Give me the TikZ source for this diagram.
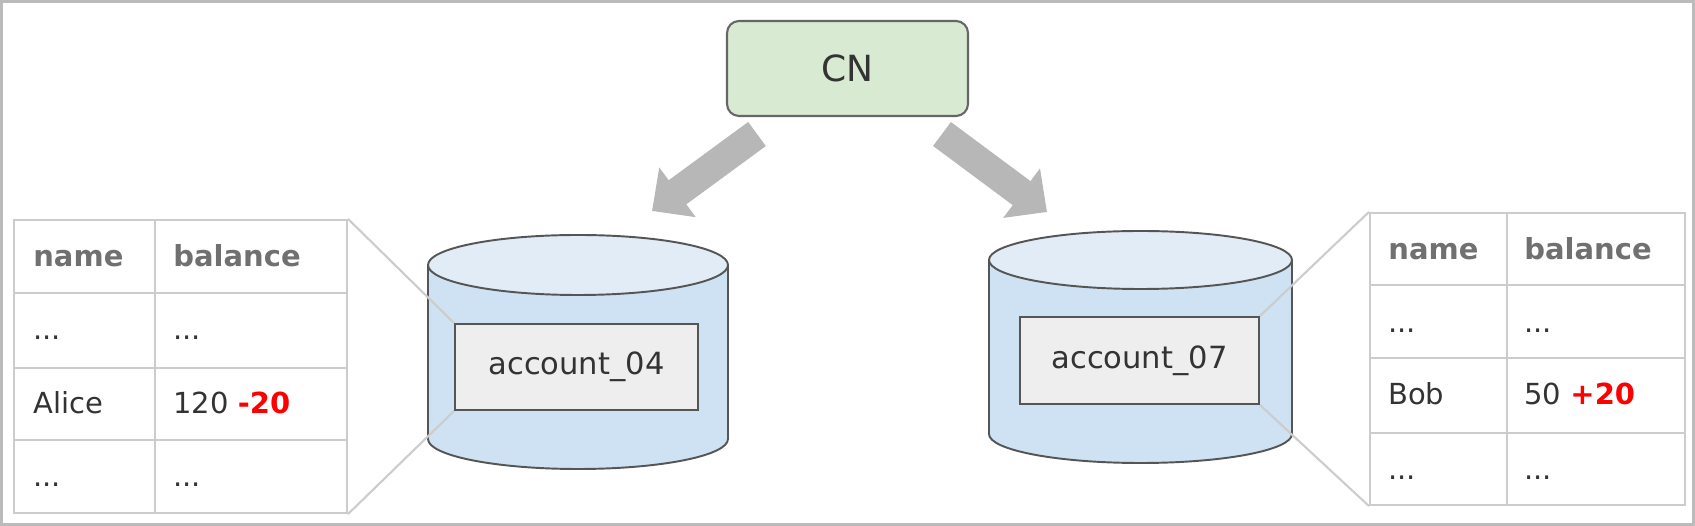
\documentclass[tikz,border=0pt]{standalone}
\usepackage{fontspec}
\setmainfont{DejaVu Sans}
\usetikzlibrary{arrows.meta,fit}
\definecolor{cnfill}{HTML}{D9EAD3}
\definecolor{cnline}{HTML}{666666}
\definecolor{cylbody}{HTML}{CFE2F3}
\definecolor{cyltop}{HTML}{E2ECF7}
\definecolor{cylline}{HTML}{555555}
\definecolor{boxfill}{HTML}{EEEEEE}
\definecolor{gridline}{HTML}{CCCCCC}
\definecolor{framegray}{HTML}{BBBBBB}
\definecolor{arrowgray}{HTML}{B7B7B7}
\definecolor{headtext}{HTML}{707070}
\definecolor{bodytext}{HTML}{333333}
\definecolor{deltared}{HTML}{FF0000}
\begin{document}
\begin{tikzpicture}[x=0.02cm,y=-0.02cm,
  cnbox/.style={draw=cnline,fill=cnfill,line width=1.2pt,rounded corners=0.24cm,
    minimum width=4.82cm,minimum height=1.9cm,inner sep=0pt,
    font=\fontsize{20.5}{24}\selectfont,text=bodytext},
  accbox/.style={draw=cylline,fill=boxfill,line width=1.1pt,inner sep=0pt,
    font=\fontsize{17.4}{21}\selectfont,text=bodytext},
  cylstroke/.style={draw=cylline,line width=1.1pt},
  tabframe/.style={draw=gridline,line width=1.2pt,inner sep=0pt},
  gridl/.style={draw=gridline,line width=1.2pt},
  zoomline/.style={draw=gridline,line width=1.2pt},
  hd/.style={anchor=base west,inner sep=0pt,text=headtext,font=\fontsize{16.5}{20}\selectfont\bfseries},
  cell/.style={anchor=base west,inner sep=0pt,text=bodytext,font=\fontsize{16.5}{20}\selectfont},
  bigarrow/.style={draw=arrowgray,line width=17pt,-{Triangle[width=34pt,length=18pt]}}
]
\useasboundingbox (0,0) rectangle (1695,526);
\draw[framegray,line width=1.2pt] (1.5,1.5) rectangle (1693.5,524.5);

% CN node
\node[cnbox] (cn) at (847.5,68.5) {CN};

% arrows
\coordinate (aLs) at (757,134);
\coordinate (aLe) at (652,211);
\coordinate (aRs) at (942,134);
\coordinate (aRe) at (1047,212);
\draw[bigarrow] (aLs) -- (aLe);
\draw[bigarrow] (aRs) -- (aRe);

% left cylinder
\fill[cylbody,cylstroke] (578,439) ellipse [x radius=150,y radius=30];
\fill[cylbody] (428,265) rectangle (728,439);
\draw[cylstroke] (428,265) -- (428,439);
\draw[cylstroke] (728,265) -- (728,439);
\filldraw[fill=cyltop,cylstroke] (578,265) ellipse [x radius=150,y radius=30];

% right cylinder
\fill[cylbody,cylstroke] (1140.5,434) ellipse [x radius=151.5,y radius=29];
\fill[cylbody] (989,260) rectangle (1292,434);
\draw[cylstroke] (989,260) -- (989,434);
\draw[cylstroke] (1292,260) -- (1292,434);
\filldraw[fill=cyltop,cylstroke] (1140.5,260) ellipse [x radius=151.5,y radius=29];

% left table
\coordinate (tL1) at (14,220);
\coordinate (tL2) at (347,513);
\node[tabframe,fit=(tL1)(tL2)] (tabL) {};
\draw[gridl] (155,220) -- (155,513);
\draw[gridl] (14,293) -- (347,293);
\draw[gridl] (14,368) -- (347,368);
\draw[gridl] (14,440) -- (347,440);
\node[hd] (l11) at (33,267) {name};
\node[hd] (l12) at (173,267) {balance};
\node[cell] (l21) at (33,340) {...};
\node[cell] (l22) at (173,340) {...};
\node[cell] (l31) at (33,414) {Alice};
\node[cell] (l32) at (173,414) {120 {\bfseries\color{deltared}-20}};
\node[cell] (l41) at (33,487) {...};
\node[cell] (l42) at (173,487) {...};

% right table
\coordinate (tR1) at (1370,213);
\coordinate (tR2) at (1685,505);
\node[tabframe,fit=(tR1)(tR2)] (tabR) {};
\draw[gridl] (1507,213) -- (1507,505);
\draw[gridl] (1370,285) -- (1685,285);
\draw[gridl] (1370,358) -- (1685,358);
\draw[gridl] (1370,433) -- (1685,433);
\node[hd] (r11) at (1388,260) {name};
\node[hd] (r12) at (1524,260) {balance};
\node[cell] (r21) at (1388,333) {...};
\node[cell] (r22) at (1524,333) {...};
\node[cell] (r31) at (1388,405) {Bob};
\node[cell] (r32) at (1524,405) {50 {\bfseries\color{deltared}+20}};
\node[cell] (r41) at (1388,480) {...};
\node[cell] (r42) at (1524,480) {...};

% boxes
\node[accbox,minimum width=4.86cm,minimum height=1.72cm] (acc4) at (576.5,367) {account\_04};
\node[accbox,minimum width=4.78cm,minimum height=1.74cm] (acc7) at (1139.5,360.5) {account\_07};

% zoom lines
\draw[zoomline] (tabL.north east) -- (acc4.north west);
\draw[zoomline] (tabL.south east) -- (acc4.south west);
\draw[zoomline] (tabR.north west) -- (acc7.north east);
\draw[zoomline] (tabR.south west) -- (acc7.south east);
\end{tikzpicture}
\end{document}
